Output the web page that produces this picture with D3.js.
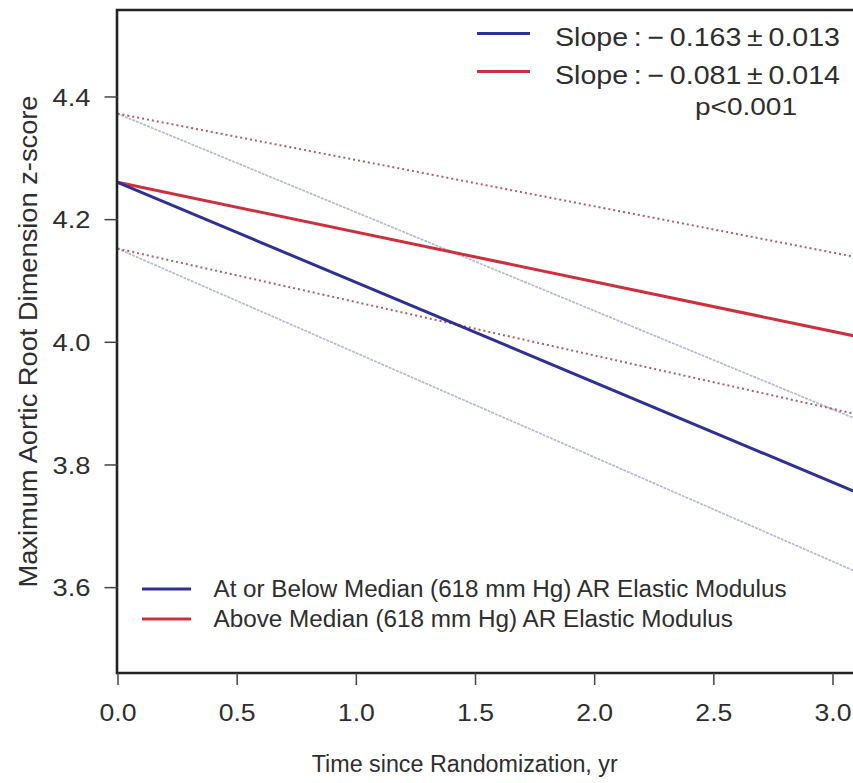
<!DOCTYPE html>
<html>
<head>
<meta charset="utf-8">
<script src="https://cdn.jsdelivr.net/npm/d3@7"></script>
<style>
  html, body { margin: 0; padding: 0; background: #fff; }
  svg { display: block; font-family: "Liberation Sans", Arial, Helvetica, sans-serif; }
</style>
</head>
<body>
<svg id="chart" width="853" height="783"></svg>
<script>
// Time grid (years since randomization)
const times = [0, 3.1];

// Fitted trajectories: shared intercept, group-specific slopes
const intercept = 4.26;
const slopes = [-0.163, -0.081];
const slopeSE = [0.013, 0.014];

// 95% confidence limits at each time point
const belowUpper = [4.372, 3.874];
const belowLower = [4.152, 3.625];
const aboveUpper = [4.372, 4.138];
const aboveLower = [4.152, 3.882];

// Axis ticks
const xTicks = [0, 0.5, 1.0, 1.5, 2.0, 2.5, 3.0];
const yTicks = [3.6, 3.8, 4.0, 4.2, 4.4];

// Text
const groupLabels = [
  "At or Below Median (618 mm Hg) AR Elastic Modulus",
  "Above Median (618 mm Hg) AR Elastic Modulus"
];
const pLabel = "p<0.001";
const xTitle = "Time since Randomization, yr";
const yTitle = "Maximum Aortic Root Dimension z-score";

const colors = ["#2e3096", "#cf2f3c"];
const ciColors = ["#aeb0cf", "#a84a58"];
const textColor = "#2e2e2e";

const svg = d3.select("#chart");

const x = d3.scaleLinear().domain([0, 3.0]).range([117.5, 832.5]);
const y = d3.scaleLinear().domain([3.46, 4.541]).range([673, 10]);

const fitValues = slopes.map(s => times.map(t => intercept + s * t));
const ciSets = [[belowUpper, belowLower], [aboveUpper, aboveLower]];

// Clip to plot region
svg.append("defs").append("clipPath").attr("id", "plot-clip")
  .append("rect").attr("x", x(0)).attr("y", y.range()[1])
  .attr("width", 900).attr("height", y.range()[0] - y.range()[1]);

const plot = svg.append("g").attr("clip-path", "url(#plot-clip)");

const line = d3.line().x((d, i) => x(times[i])).y(d => y(d));

// Confidence bands
ciSets.forEach((pair, g) => {
  pair.forEach(vals => {
    plot.append("path")
      .datum(vals)
      .attr("d", line)
      .attr("fill", "none")
      .attr("stroke", ciColors[g])
      .attr("stroke-width", g === 0 ? 1.7 : 2)
      .attr("stroke-dasharray", g === 0 ? "3,1" : "2,3")
      .attr("opacity", 0.9);
  });
});

// Fitted lines (above-median first, below-median on top)
[1, 0].forEach(g => {
  plot.append("path")
    .datum(fitValues[g])
    .attr("d", line)
    .attr("fill", "none")
    .attr("stroke", colors[g])
    .attr("stroke-width", 3);
});

// Frame (right side extends beyond the view)
svg.append("path")
  .attr("d", `M900,${y.range()[1]} H${x(0) - 0.5} V${y.range()[0]} H900`)
  .attr("fill", "none")
  .attr("stroke", "#222")
  .attr("stroke-width", 2.6);

// X axis
const xAxis = d3.axisBottom(x).tickValues(xTicks).tickFormat(d3.format(".1f"))
  .tickSize(12).tickPadding(6);
const gx = svg.append("g").attr("transform", `translate(0,${y.range()[0]})`).call(xAxis);
gx.select(".domain").remove();
gx.selectAll(".tick line").attr("stroke", "#444").attr("stroke-width", 1.5);
gx.selectAll(".tick text")
  .attr("y", null).attr("dy", null)
  .attr("transform", "translate(0,48)")
  .attr("font-size", 24).attr("fill", textColor)
  .attr("font-family", "Liberation Sans, Arial, sans-serif")
  .attr("textLength", 37).attr("lengthAdjust", "spacingAndGlyphs");

// Y axis
const yAxis = d3.axisLeft(y).tickValues(yTicks).tickFormat(d3.format(".1f"))
  .tickSize(13).tickPadding(14);
const gy = svg.append("g").attr("transform", `translate(${x(0)},0)`).call(yAxis);
gy.select(".domain").remove();
gy.selectAll(".tick line").attr("stroke", "#444").attr("stroke-width", 1.5);
gy.selectAll(".tick text")
  .attr("x", -27).attr("dy", "0.36em")
  .attr("font-size", 24).attr("fill", textColor)
  .attr("font-family", "Liberation Sans, Arial, sans-serif")
  .attr("textLength", 38).attr("lengthAdjust", "spacingAndGlyphs");

// Axis titles
svg.append("text")
  .attr("x", 311.7).attr("y", 771.5)
  .attr("font-size", 23.5).attr("fill", textColor)
  .attr("textLength", 306).attr("lengthAdjust", "spacingAndGlyphs")
  .text(xTitle);

svg.append("text")
  .attr("transform", `translate(36.5,${(y.range()[0] + y.range()[1]) / 2}) rotate(-90)`)
  .attr("text-anchor", "middle")
  .attr("font-size", 26).attr("fill", textColor)
  .attr("textLength", 492).attr("lengthAdjust", "spacingAndGlyphs")
  .text(yTitle);

// Slope legend (top right)
const fmt = d3.format(".3f");
const slopeRows = [33.5, 71.5];
slopes.forEach((s, g) => {
  svg.append("line")
    .attr("x1", 477).attr("x2", 530)
    .attr("y1", slopeRows[g]).attr("y2", slopeRows[g])
    .attr("stroke", colors[g]).attr("stroke-width", 3);
  svg.append("text")
    .attr("x", 555).attr("y", slopeRows[g] + 12)
    .attr("font-size", 25.5).attr("fill", textColor)
    .attr("textLength", 285).attr("lengthAdjust", "spacingAndGlyphs")
    .text(`Slope\u2009:\u2009\u2212\u20090.${fmt(Math.abs(s)).split(".")[1]}\u2009\u00B1\u20090.${fmt(slopeSE[g]).split(".")[1]}`);
});
svg.append("text")
  .attr("x", 695).attr("y", 115)
  .attr("font-size", 24).attr("fill", textColor)
  .attr("textLength", 102).attr("lengthAdjust", "spacingAndGlyphs")
  .text(pLabel);

// Group legend (bottom left)
const groupRows = [589, 619];
const groupWidths = [573, 519.5];
groupLabels.forEach((lab, g) => {
  svg.append("line")
    .attr("x1", 142).attr("x2", 191)
    .attr("y1", groupRows[g]).attr("y2", groupRows[g])
    .attr("stroke", colors[g]).attr("stroke-width", 3);
  svg.append("text")
    .attr("x", 213.5).attr("y", groupRows[g] + 8)
    .attr("font-size", 23).attr("fill", textColor)
    .attr("textLength", groupWidths[g]).attr("lengthAdjust", "spacingAndGlyphs")
    .text(lab);
});
</script>
</body>
</html>
